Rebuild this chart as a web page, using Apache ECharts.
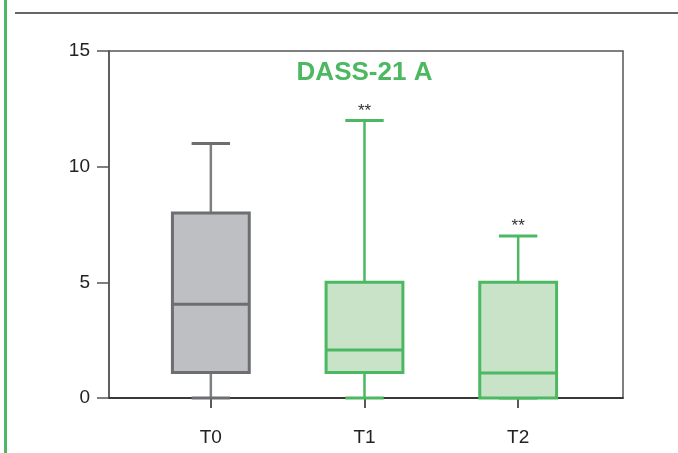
<!DOCTYPE html>
<html>
<head>
<meta charset="utf-8">
<script src="https://cdn.jsdelivr.net/npm/echarts@6/dist/echarts.min.js"></script>
<style>html,body{margin:0;padding:0;background:#fff;}#c{width:678px;height:453px;}</style>
</head>
<body>
<div id="c"></div>
<script>
var categories = ['T0', 'T1', 'T2'];
var mins = [0, 0, 0];
var q1s = [1.1, 1.1, 0];
var medians = [4.05, 2.07, 1.08];
var q3s = [8, 5, 5];
var maxs = [11, 12, 7];
var significance = ['', '**', '**'];
var yTicks = [0, 5, 10, 15];
var titleText = 'DASS-21 A';

var strokeColors = ['#6d6e71', '#4cb862', '#4cb862'];
var whiskerColors = ['#7e7f83', '#4cb862', '#4cb862'];
var fillColors = ['#bebfc3', '#c8e3c8', '#c8e3c8'];

var data = categories.map(function (c, i) {
  return [i, mins[i], q1s[i], medians[i], q3s[i], maxs[i]];
});

var chart = echarts.init(document.getElementById('c'));
var FONT = '"Liberation Sans", Arial, sans-serif';

chart.setOption({
  animation: false,
  grid: [
    {left: 109, width: 514, top: 51, height: 347, show: true, borderColor: '#555', borderWidth: 1.5, backgroundColor: 'transparent'},
    {left: 134, width: 461, top: 51, height: 347}
  ],
  xAxis: [
    {gridIndex: 0, type: 'value', min: 0, max: 1, show: true,
      axisLine: {show: true, lineStyle: {color: '#222', width: 1.5}},
      axisTick: {show: false}, axisLabel: {show: false}, splitLine: {show: false}},
    {gridIndex: 1, type: 'category', data: categories, boundaryGap: true,
      axisLine: {show: false},
      axisTick: {show: true, alignWithLabel: true, length: 10, lineStyle: {color: '#222', width: 1.5}},
      axisLabel: {color: '#222', fontSize: 19, fontFamily: FONT, margin: 30},
      splitLine: {show: false}}
  ],
  yAxis: [
    {gridIndex: 0, type: 'value', min: 0, max: 15, interval: 5,
      axisLine: {show: true, lineStyle: {color: '#555', width: 1.5}},
      axisTick: {show: true, length: 12, lineStyle: {color: '#555', width: 1.5}},
      axisLabel: {color: '#222', fontSize: 19, fontFamily: FONT, margin: 19},
      splitLine: {show: false}},
    {gridIndex: 1, type: 'value', min: 0, max: 15, show: false}
  ],
  graphic: [
    {type: 'line', shape: {x1: 5.5, y1: 0, x2: 5.5, y2: 453}, style: {stroke: '#4cb862', lineWidth: 3}},
    {type: 'line', shape: {x1: 15, y1: 13, x2: 678, y2: 13}, style: {stroke: '#333', lineWidth: 1.5}},
    {type: 'text', x: 364.5, y: 73, style: {text: titleText, fill: '#4cb862', font: 'bold 26px ' + FONT, textAlign: 'center', textVerticalAlign: 'middle'}}
  ],
  series: [{
    type: 'custom',
    xAxisIndex: 1, yAxisIndex: 1,
    data: data,
    clip: false,
    renderItem: function (params, api) {
      var idx = api.value(0);
      var band = api.size([1, 0])[0];
      var bw = band * 0.5;
      var cw = bw * 0.5;
      var pMin = api.coord([idx, api.value(1)]);
      var pQ1 = api.coord([idx, api.value(2)]);
      var pMed = api.coord([idx, api.value(3)]);
      var pQ3 = api.coord([idx, api.value(4)]);
      var pMax = api.coord([idx, api.value(5)]);
      var cx = pMin[0];
      var i = params.dataIndex;
      var sc = strokeColors[i], wc = whiskerColors[i], fc = fillColors[i];
      var children = [
        {type: 'line', shape: {x1: cx, y1: pQ3[1], x2: cx, y2: pMax[1]}, style: {stroke: wc, lineWidth: 2.5}},
        {type: 'line', shape: {x1: cx, y1: pMin[1], x2: cx, y2: pQ1[1]}, style: {stroke: wc, lineWidth: 2.5}},
        {type: 'line', shape: {x1: cx - cw / 2, y1: pMax[1], x2: cx + cw / 2, y2: pMax[1]}, style: {stroke: sc, lineWidth: 3}},
        {type: 'line', shape: {x1: cx - cw / 2, y1: pMin[1], x2: cx + cw / 2, y2: pMin[1]}, style: {stroke: sc, lineWidth: 3}},
        {type: 'rect', shape: {x: cx - bw / 2, y: pQ3[1], width: bw, height: pQ1[1] - pQ3[1]}, style: {fill: fc, stroke: sc, lineWidth: 3}},
        {type: 'line', shape: {x1: cx - bw / 2, y1: pMed[1], x2: cx + bw / 2, y2: pMed[1]}, style: {stroke: sc, lineWidth: 3}}
      ];
      if (significance[i]) {
        children.push({type: 'text', x: cx, y: pMax[1] - 1,
          style: {text: significance[i], fill: '#333', font: '17px ' + FONT, textAlign: 'center', textVerticalAlign: 'bottom'}});
      }
      return {type: 'group', children: children};
    }
  }]
});
</script>
</body>
</html>
